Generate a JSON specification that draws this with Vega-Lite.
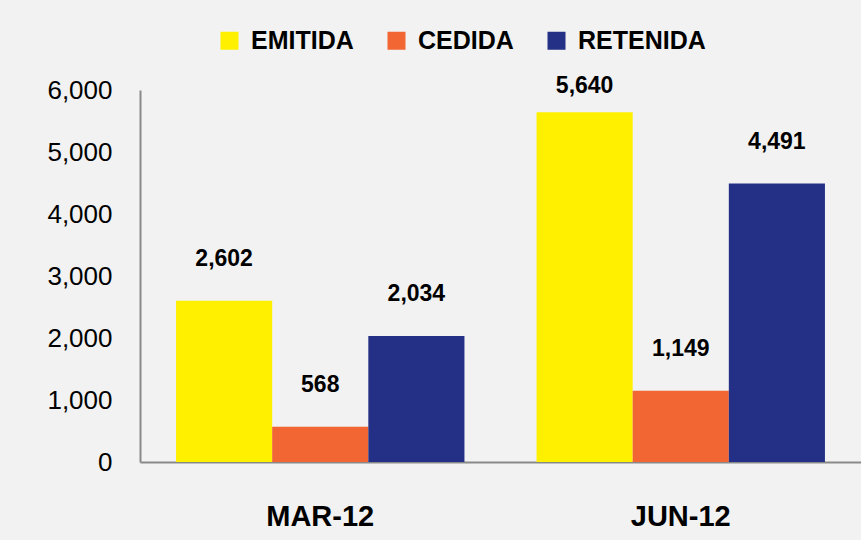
{
  "$schema": "https://vega.github.io/schema/vega-lite/v6.json",
  "width": 721,
  "height": 372,
  "autosize": {"type": "none"},
  "padding": {"left": 140, "top": 90, "right": 0, "bottom": 78},
  "background": "#f2f2f2",
  "config": {"view": {"stroke": null}, "font": "Liberation Sans"},
  "data": {
    "values": [
      {"periodo": "MAR-12", "serie": "EMITIDA", "valor": 2602},
      {"periodo": "MAR-12", "serie": "CEDIDA", "valor": 568},
      {"periodo": "MAR-12", "serie": "RETENIDA", "valor": 2034},
      {"periodo": "JUN-12", "serie": "EMITIDA", "valor": 5640},
      {"periodo": "JUN-12", "serie": "CEDIDA", "valor": 1149},
      {"periodo": "JUN-12", "serie": "RETENIDA", "valor": 4491}
    ]
  },
  "encoding": {
    "x": {
      "field": "periodo",
      "type": "nominal",
      "sort": null,
      "scale": {"paddingInner": 0.2, "paddingOuter": 0.1},
      "axis": {
        "title": null,
        "labelAngle": 0,
        "ticks": false,
        "labelFont": "Liberation Sans",
        "labelFontWeight": "bold",
        "labelFontSize": 29,
        "labelColor": "#000000",
        "labelBaseline": "middle",
        "labelPadding": 54,
        "domainColor": "#898989",
        "domainWidth": 2
      }
    },
    "xOffset": {
      "field": "serie",
      "type": "nominal",
      "sort": ["EMITIDA", "CEDIDA", "RETENIDA"],
      "scale": {"paddingInner": 0, "paddingOuter": 0}
    },
    "y": {
      "field": "valor",
      "type": "quantitative",
      "scale": {"domain": [0, 6000]},
      "axis": {
        "title": null,
        "values": [0, 1000, 2000, 3000, 4000, 5000, 6000],
        "format": ",.0f",
        "ticks": false,
        "grid": false,
        "labelFont": "Liberation Sans",
        "labelFontSize": 26,
        "labelColor": "#000000",
        "labelPadding": 28,
        "domainColor": "#898989",
        "domainWidth": 2
      }
    }
  },
  "layer": [
    {
      "mark": {"type": "bar"},
      "encoding": {
        "color": {
          "field": "serie",
          "type": "nominal",
          "sort": ["EMITIDA", "CEDIDA", "RETENIDA"],
          "scale": {
            "domain": ["EMITIDA", "CEDIDA", "RETENIDA"],
            "range": ["#fff000", "#f26633", "#233085"]
          },
          "legend": {
            "title": null,
            "orient": "none",
            "legendX": 77,
            "legendY": -62,
            "direction": "horizontal",
            "padding": 0,
            "symbolType": "square",
            "symbolSize": 324,
            "symbolStrokeWidth": 0,
            "labelFont": "Liberation Sans",
            "labelFontWeight": "bold",
            "labelFontSize": 25,
            "labelLimit": 300,
            "labelColor": "#000000",
            "labelOffset": 9,
            "columnPadding": 30
          }
        }
      }
    },
    {
      "transform": [{"filter": "datum.valor <= 5000"}],
      "mark": {
        "type": "text",
        "fontWeight": "bold",
        "fontSize": 23,
        "baseline": "middle",
        "dy": -42,
        "color": "#000000"
      },
      "encoding": {
        "text": {"field": "valor", "type": "quantitative", "format": ",.0f"}
      }
    },
    {
      "transform": [{"filter": "datum.valor > 5000"}],
      "mark": {
        "type": "text",
        "fontWeight": "bold",
        "fontSize": 23,
        "baseline": "middle",
        "dy": -26,
        "color": "#000000"
      },
      "encoding": {
        "text": {"field": "valor", "type": "quantitative", "format": ",.0f"}
      }
    }
  ]
}
